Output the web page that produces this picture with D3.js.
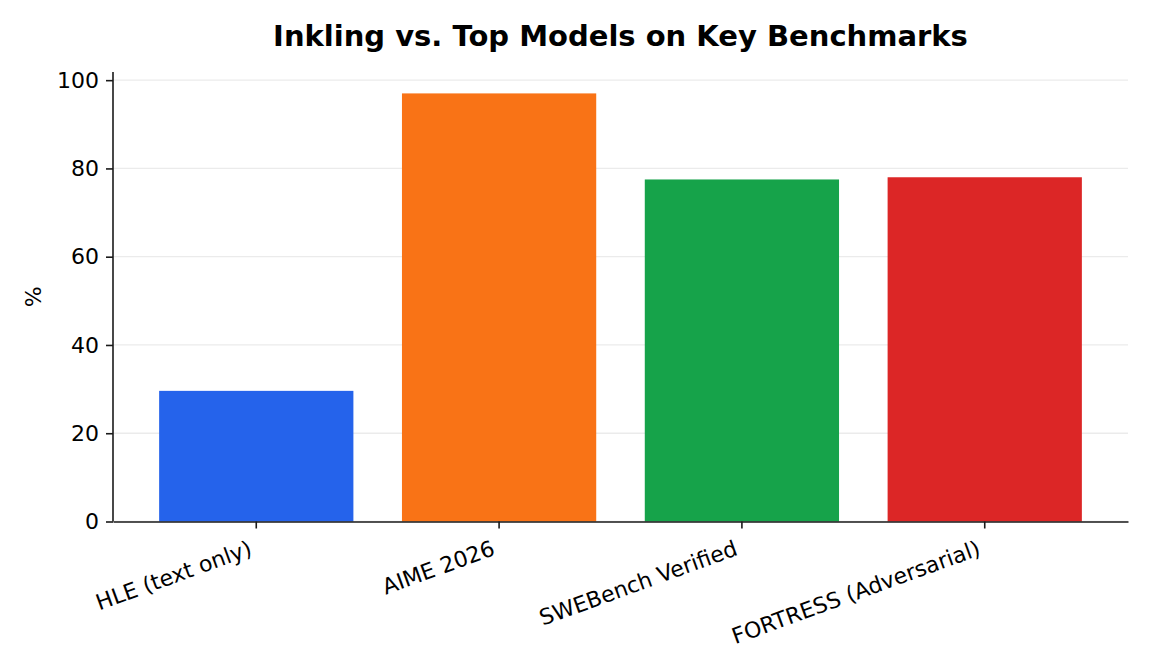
<!DOCTYPE html>
<html>
<head>
<meta charset="utf-8">
<script src="https://cdn.jsdelivr.net/npm/d3@7"></script>
<style>
  body { margin: 0; background: #fff; }
  svg { font-family: "DejaVu Sans", sans-serif; }
</style>
</head>
<body>
<div id="chart"></div>
<script>
var benchmarks = ["HLE (text only)", "AIME 2026", "SWEBench Verified", "FORTRESS (Adversarial)"];
var scores = [29.6, 97.0, 77.5, 78.0];
var barColors = ["#2563eb", "#f97316", "#16a34a", "#dc2626"];
var yTicks = [0, 20, 40, 60, 80, 100];

function BarChart() {
  var w = 1152, h = 672;
  var margin = {top: 72, right: 24, bottom: 150.5, left: 113};
  var iw = w - margin.left - margin.right;
  var ih = h - margin.top - margin.bottom;

  var svg = d3.select("#chart")
    .append("svg")
    .attr("width", w)
    .attr("height", h);

  var g = svg.append("g")
    .attr("transform", "translate(" + margin.left + "," + margin.top + ")");

  var dataset = benchmarks.map((b, i) => ({name: b, value: scores[i], color: barColors[i]}));

  var xScale = d3.scaleBand()
    .domain(benchmarks)
    .range([0, iw])
    .paddingInner(0.2)
    .paddingOuter(0.19);

  var yScale = d3.scaleLinear()
    .domain([0, d3.max(scores) * 1.05])
    .range([ih, 0]);

  // grid
  g.selectAll("line.grid")
    .data(yTicks)
    .enter()
    .append("line")
    .attr("class", "grid")
    .attr("x1", 0)
    .attr("x2", iw)
    .attr("y1", d => yScale(d))
    .attr("y2", d => yScale(d))
    .attr("stroke", "#b0b0b0")
    .attr("stroke-opacity", 0.25)
    .attr("stroke-width", 1.3);

  // bars
  g.selectAll("rect")
    .data(dataset)
    .enter()
    .append("rect")
    .attr("x", d => xScale(d.name))
    .attr("y", d => yScale(d.value))
    .attr("width", xScale.bandwidth())
    .attr("height", d => ih - yScale(d.value))
    .attr("fill", d => d.color);

  // y axis
  var yAxis = d3.axisLeft(yScale)
    .tickValues(yTicks)
    .tickSize(7)
    .tickPadding(7);
  var yg = g.append("g").call(yAxis);
  yg.select(".domain").attr("stroke", "#1a1a1a").attr("stroke-width", 1.6)
    .attr("d", "M0," + ih + "V0");
  yg.selectAll(".tick line").attr("stroke", "#1a1a1a").attr("stroke-width", 1.6);
  yg.selectAll(".tick text").attr("font-size", 22).attr("fill", "#000")
    .attr("font-family", "DejaVu Sans");

  // x axis
  var xAxis = d3.axisBottom(xScale)
    .tickSize(7)
    .tickSizeOuter(0)
    .tickFormat("");
  var xg = g.append("g")
    .attr("transform", "translate(0," + ih + ")")
    .call(xAxis);
  xg.select(".domain").attr("stroke", "#1a1a1a").attr("stroke-width", 1.6);
  xg.selectAll(".tick line").attr("stroke", "#1a1a1a").attr("stroke-width", 1.6);

  // rotated x labels
  g.selectAll("text.xlabel")
    .data(benchmarks)
    .enter()
    .append("text")
    .attr("class", "xlabel")
    .attr("text-anchor", "end")
    .attr("font-size", 22)
    .attr("fill", "#000")
    .attr("transform", d => "translate(" + (xScale(d) + xScale.bandwidth() / 2 - 3) + "," + (ih + 33) + ") rotate(-20)")
    .text(d => d);

  // y label
  svg.append("text")
    .attr("text-anchor", "middle")
    .attr("font-size", 22)
    .attr("transform", "translate(41," + (margin.top + ih / 2) + ") rotate(-90)")
    .text("%");

  // title
  svg.append("text")
    .attr("x", margin.left + iw / 2)
    .attr("y", 46)
    .attr("text-anchor", "middle")
    .attr("font-size", 29)
    .attr("font-weight", "bold")
    .text("Inkling vs. Top Models on Key Benchmarks");
}

window.onload = function () {
  BarChart();
};
</script>
</body>
</html>
